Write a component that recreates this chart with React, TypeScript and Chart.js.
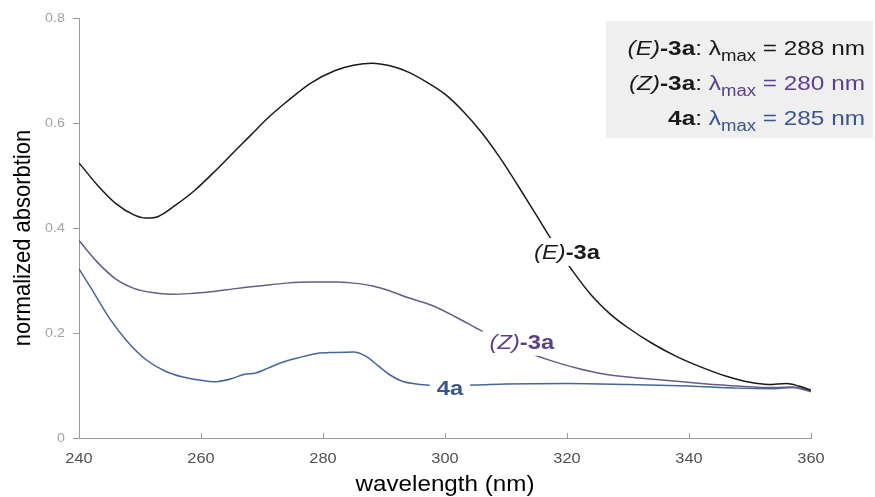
import React, { useEffect, useRef } from "react";
import { Chart, registerables } from "chart.js";

Chart.register(...registerables);

const eWavelength = [240, 243, 246, 249, 251, 253, 256, 259, 262, 265, 268, 271, 274, 278, 282, 285, 288, 291, 294, 297, 300, 303, 306, 309, 312, 315, 318, 321, 324, 327, 330, 334, 338, 342, 346, 350, 353, 356, 358, 360];
const eValues = [0.524, 0.482, 0.447, 0.425, 0.419, 0.422, 0.445, 0.472, 0.505, 0.540, 0.575, 0.610, 0.640, 0.676, 0.700, 0.710, 0.714, 0.709, 0.697, 0.678, 0.655, 0.622, 0.582, 0.534, 0.480, 0.424, 0.368, 0.317, 0.272, 0.237, 0.210, 0.180, 0.155, 0.135, 0.118, 0.106, 0.102, 0.104, 0.099, 0.091];

const zWavelength = [240, 243, 246, 249, 252, 255, 258, 262, 266, 270, 274, 278, 282, 285, 288, 291, 294, 298, 302, 306, 310, 314, 318, 322, 326, 330, 336, 342, 348, 354, 357, 360];
const zValues = [0.376, 0.335, 0.303, 0.285, 0.277, 0.274, 0.275, 0.279, 0.285, 0.290, 0.295, 0.297, 0.297, 0.295, 0.290, 0.280, 0.267, 0.252, 0.229, 0.204, 0.181, 0.161, 0.145, 0.132, 0.122, 0.116, 0.110, 0.104, 0.099, 0.096, 0.097, 0.090];

const aWavelength = [240, 242, 245, 248, 251, 254, 257, 260, 262, 265, 267, 269, 271, 273, 276, 279, 282, 285, 287, 289, 291, 293, 296, 300, 305, 310, 320, 330, 340, 348, 354, 357, 360];
const aValues = [0.322, 0.285, 0.228, 0.183, 0.149, 0.128, 0.116, 0.110, 0.107, 0.113, 0.121, 0.124, 0.133, 0.143, 0.153, 0.161, 0.163, 0.164, 0.156, 0.138, 0.120, 0.108, 0.102, 0.100, 0.101, 0.103, 0.104, 0.102, 0.099, 0.095, 0.094, 0.096, 0.088];

const xTicks = [240, 260, 280, 300, 320, 340, 360];
const yTicks = [0, 0.2, 0.4, 0.6, 0.8];
const yTickLabels = ["0", "0.2", "0.4", "0.6", "0.8"];

const seriesNames = ["(E)-3a", "(Z)-3a", "4a"];
const lambdaMax = [288, 280, 285];
const xTitle = "wavelength (nm)";
const yTitle = "normalized absorbtion";

const BLACK = "#1a1a1a";
const PURPLE_TEXT = "#5c3f8d";
const BLUE_TEXT = "#3a5590";
const PURPLE_LINE = "#6a5a8c";
const BLUE_LINE = "#46669a";

const FAMILY = "'Liberation Sans', Arial, Helvetica, sans-serif";

type Seg = { t: string; w?: string; it?: boolean; c: string; sub?: boolean };

function drawRich(ctx: CanvasRenderingContext2D, segs: Seg[], anchorX: number, baseline: number, size: number, align: "right" | "center", sx: number) {
  const subSize = Math.round(size * 0.74);
  const fontOf = (s: Seg) => `${s.it ? "italic " : ""}${s.w || "normal"} ${s.sub ? subSize : size}px ${FAMILY}`;
  let total = 0;
  const widths = segs.map((s) => {
    ctx.font = fontOf(s);
    const w = ctx.measureText(s.t).width;
    total += w;
    return w;
  });
  ctx.save();
  ctx.translate(anchorX, baseline);
  ctx.scale(sx, 1);
  let x = align === "right" ? -total : -total / 2;
  ctx.textAlign = "left";
  ctx.textBaseline = "alphabetic";
  segs.forEach((s, i) => {
    ctx.font = fontOf(s);
    ctx.fillStyle = s.c;
    ctx.fillText(s.t, x, s.sub ? size * 0.27 : 0);
    x += widths[i];
  });
  ctx.restore();
  return total * sx;
}

function drawText(ctx: CanvasRenderingContext2D, text: string, x: number, y: number, size: number, color: string, align: CanvasTextAlign, sx: number) {
  ctx.save();
  ctx.translate(x, y);
  ctx.scale(sx, 1);
  ctx.font = `normal ${size}px ${FAMILY}`;
  ctx.fillStyle = color;
  ctx.textAlign = align;
  ctx.textBaseline = "middle";
  ctx.fillText(text, 0, 0);
  ctx.restore();
}

const annotationPlugin = {
  id: "annot",
  afterDraw(chart: any) {
    const ctx: CanvasRenderingContext2D = chart.ctx;
    const xs = chart.scales.x;
    const ys = chart.scales.y;
    ctx.save();
    // inward x ticks
    ctx.strokeStyle = "#9a9a9a";
    ctx.lineWidth = 1;
    xTicks.forEach((v) => {
      const px = Math.round(xs.getPixelForValue(v)) + 0.5;
      ctx.beginPath();
      ctx.moveTo(px, ys.bottom);
      ctx.lineTo(px, ys.bottom - 5);
      ctx.stroke();
    });

    // tick labels
    xTicks.forEach((v) => {
      drawText(ctx, String(v), xs.getPixelForValue(v), ys.bottom + 21, 14, "#505050", "center", 1.17);
    });
    yTicks.forEach((v, i) => {
      drawText(ctx, yTickLabels[i], xs.left - 14, ys.getPixelForValue(v), 13, "#a3a3a3", "right", 1.1);
    });

    // axis titles
    drawText(ctx, xTitle, (xs.left + xs.right) / 2, 485, 22, "#000000", "center", 1.1);
    ctx.save();
    ctx.translate(23, 238);
    ctx.rotate(-Math.PI / 2);
    ctx.scale(1, 1.12);
    ctx.font = `normal 22px ${FAMILY}`;
    ctx.fillStyle = "#000000";
    ctx.textAlign = "center";
    ctx.textBaseline = "middle";
    ctx.fillText(yTitle, 0, 0);
    ctx.restore();

    // inline labels
    const SX = 1.13;
    const labels: { segs: Seg[]; x: number; y: number }[] = [
      { segs: [{ t: "(E)", it: true, c: BLACK }, { t: "-3a", w: "bold", c: BLACK }], x: 320.0, y: 0.341 },
      { segs: [{ t: "(Z)", it: true, c: PURPLE_TEXT }, { t: "-3a", w: "bold", c: PURPLE_TEXT }], x: 312.6, y: 0.170 },
      { segs: [{ t: "4a", w: "bold", c: BLUE_TEXT }], x: 300.8, y: 0.082 },
    ];
    labels.forEach((l) => {
      const cx = xs.getPixelForValue(l.x);
      const by = ys.getPixelForValue(l.y);
      let w = 0;
      l.segs.forEach((s) => {
        ctx.font = `${s.it ? "italic " : ""}${s.w || "normal"} 21px ${FAMILY}`;
        w += ctx.measureText(s.t).width;
      });
      w *= SX;
      ctx.fillStyle = "#ffffff";
      ctx.fillRect(cx - w / 2 - 7, by - 21, w + 14, 28);
      drawRich(ctx, l.segs, cx, by, 21, "center", SX);
    });

    // legend box
    const boxLeft = 606;
    const boxTop = 21;
    ctx.fillStyle = "#efefef";
    ctx.fillRect(boxLeft, boxTop, chart.width - boxLeft - 2, 138 - boxTop);
    const rx = 865;
    const LS = 1.16;
    const LF = 21;
    drawRich(ctx, [
      { t: "(E)", it: true, c: BLACK }, { t: "-3a", w: "bold", c: BLACK }, { t: ": λ", c: BLACK },
      { t: "max", c: BLACK, sub: true }, { t: ` = ${lambdaMax[0]} nm`, c: BLACK },
    ], rx, 55, LF, "right", LS);
    drawRich(ctx, [
      { t: "(Z)", it: true, c: BLACK }, { t: "-3a", w: "bold", c: BLACK }, { t: ": ", c: BLACK }, { t: "λ", c: PURPLE_TEXT },
      { t: "max", c: PURPLE_TEXT, sub: true }, { t: ` = ${lambdaMax[1]} nm`, c: PURPLE_TEXT },
    ], rx, 90, LF, "right", LS);
    drawRich(ctx, [
      { t: "4a", w: "bold", c: BLACK }, { t: ": ", c: BLACK }, { t: "λ", c: BLUE_TEXT },
      { t: "max", c: BLUE_TEXT, sub: true }, { t: ` = ${lambdaMax[2]} nm`, c: BLUE_TEXT },
    ], rx, 125, LF, "right", LS);
    ctx.restore();
  },
};

export default function App() {
  const ref = useRef<HTMLCanvasElement | null>(null);
  useEffect(() => {
    document.body.style.margin = "0";
    const toPts = (xs: number[], ys: number[]) => xs.map((x, i) => ({ x, y: ys[i] }));
    const chart = new Chart(ref.current!, {
      type: "line",
      data: {
        datasets: [
          { label: seriesNames[0], data: toPts(eWavelength, eValues), borderColor: BLACK, borderWidth: 1.5 },
          { label: seriesNames[1], data: toPts(zWavelength, zValues), borderColor: PURPLE_LINE, borderWidth: 1.5 },
          { label: seriesNames[2], data: toPts(aWavelength, aValues), borderColor: BLUE_LINE, borderWidth: 1.5 },
        ],
      },
      options: {
        animation: false,
        responsive: false,
        devicePixelRatio: 1,
        events: [],
        layout: { padding: { top: 18, right: 64, left: 0, bottom: 0 } },
        elements: {
          point: { radius: 0 },
          line: { cubicInterpolationMode: "monotone", fill: false },
        },
        plugins: { legend: { display: false }, tooltip: { enabled: false } },
        scales: {
          x: {
            type: "linear",
            min: 240,
            max: 360,
            afterBuildTicks: (s: any) => { s.ticks = xTicks.map((v) => ({ value: v })); },
            afterFit: (s: any) => { s.height = 59; },
            grid: { display: false, drawTicks: false },
            border: { display: true, color: "#9a9a9a", width: 1 },
            ticks: { display: false },
            title: { display: false, text: xTitle },
          },
          y: {
            min: 0,
            max: 0.8,
            afterBuildTicks: (s: any) => { s.ticks = yTicks.map((v) => ({ value: v })); },
            afterFit: (s: any) => { s.width = 79; },
            grid: { drawOnChartArea: false, drawTicks: true, tickLength: 6, color: "#9a9a9a" },
            border: { display: true, color: "#9a9a9a", width: 1 },
            ticks: { display: false },
            title: { display: false, text: yTitle },
          },
        },
      },
      plugins: [annotationPlugin],
    } as any);
    return () => chart.destroy();
  }, []);
  return (
    <div style={{ width: 875, height: 497 }}>
      <canvas ref={ref} width={875} height={497} style={{ display: "block" }} />
    </div>
  );
}
